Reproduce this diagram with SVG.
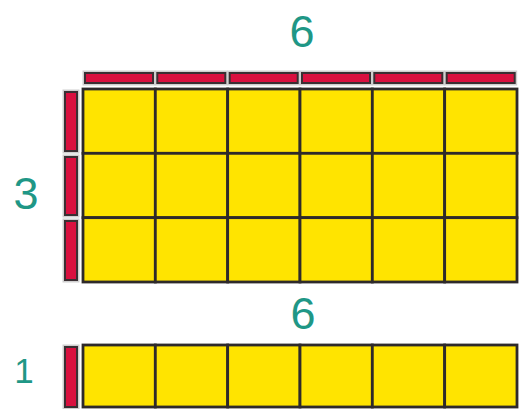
<svg xmlns="http://www.w3.org/2000/svg" width="522" height="409" viewBox="0 0 522 409">
<style>
.cell{fill:#ffe400;stroke:#2e2a2a;stroke-width:2.8}
.bar{fill:#d9103f;stroke:#3a2f33;stroke-width:2}
.halo{fill:none;stroke:#cfcfcf;stroke-width:5}
.num{font-family:"Liberation Sans",Arial,sans-serif;font-size:45px;fill:#1f9786;text-anchor:middle}
</style>
<rect width="522" height="409" fill="#ffffff"/>
<g id="label-top-6"><text class="num" x="302" y="47">6</text></g>
<g id="label-3"><text class="num" x="26" y="209">3</text></g>
<g id="label-bottom-6"><text class="num" x="303" y="329">6</text></g>
<g id="label-1"><text class="num" x="24" y="383" style="font-size:35px">1</text></g>
<g id="top-bars">
<rect class="halo" x="85" y="73" width="68" height="10"/>
<rect class="halo" x="157.3" y="73" width="68" height="10"/>
<rect class="halo" x="229.7" y="73" width="68" height="10"/>
<rect class="halo" x="302" y="73" width="68" height="10"/>
<rect class="halo" x="374.3" y="73" width="68" height="10"/>
<rect class="halo" x="446.7" y="73" width="68" height="10"/>
<rect class="bar" x="85" y="73" width="68" height="10"/>
<rect class="bar" x="157.3" y="73" width="68" height="10"/>
<rect class="bar" x="229.7" y="73" width="68" height="10"/>
<rect class="bar" x="302" y="73" width="68" height="10"/>
<rect class="bar" x="374.3" y="73" width="68" height="10"/>
<rect class="bar" x="446.7" y="73" width="68" height="10"/>
</g>
<g id="left-bars">
<rect class="halo" x="65" y="92" width="12" height="59"/>
<rect class="halo" x="65" y="157" width="12" height="58"/>
<rect class="halo" x="65" y="221" width="12" height="59"/>
<rect class="bar" x="65" y="92" width="12" height="59"/>
<rect class="bar" x="65" y="157" width="12" height="58"/>
<rect class="bar" x="65" y="221" width="12" height="59"/>
</g>
<g id="grid-3x6">
<rect class="cell" x="83" y="89" width="72.33" height="64.33"/>
<rect class="cell" x="155.33" y="89" width="72.33" height="64.33"/>
<rect class="cell" x="227.67" y="89" width="72.33" height="64.33"/>
<rect class="cell" x="300" y="89" width="72.33" height="64.33"/>
<rect class="cell" x="372.33" y="89" width="72.33" height="64.33"/>
<rect class="cell" x="444.67" y="89" width="72.33" height="64.33"/>
<rect class="cell" x="83" y="153.33" width="72.33" height="64.33"/>
<rect class="cell" x="155.33" y="153.33" width="72.33" height="64.33"/>
<rect class="cell" x="227.67" y="153.33" width="72.33" height="64.33"/>
<rect class="cell" x="300" y="153.33" width="72.33" height="64.33"/>
<rect class="cell" x="372.33" y="153.33" width="72.33" height="64.33"/>
<rect class="cell" x="444.67" y="153.33" width="72.33" height="64.33"/>
<rect class="cell" x="83" y="217.67" width="72.33" height="64.33"/>
<rect class="cell" x="155.33" y="217.67" width="72.33" height="64.33"/>
<rect class="cell" x="227.67" y="217.67" width="72.33" height="64.33"/>
<rect class="cell" x="300" y="217.67" width="72.33" height="64.33"/>
<rect class="cell" x="372.33" y="217.67" width="72.33" height="64.33"/>
<rect class="cell" x="444.67" y="217.67" width="72.33" height="64.33"/>
</g>
<g id="bottom-bar">
<rect class="halo" x="65" y="347" width="12" height="60"/>
<rect class="bar" x="65" y="347" width="12" height="60"/>
</g>
<g id="row-1x6">
<rect class="cell" x="83" y="345" width="72.33" height="62"/>
<rect class="cell" x="155.33" y="345" width="72.33" height="62"/>
<rect class="cell" x="227.67" y="345" width="72.33" height="62"/>
<rect class="cell" x="300" y="345" width="72.33" height="62"/>
<rect class="cell" x="372.33" y="345" width="72.33" height="62"/>
<rect class="cell" x="444.67" y="345" width="72.33" height="62"/>
</g>
</svg>
